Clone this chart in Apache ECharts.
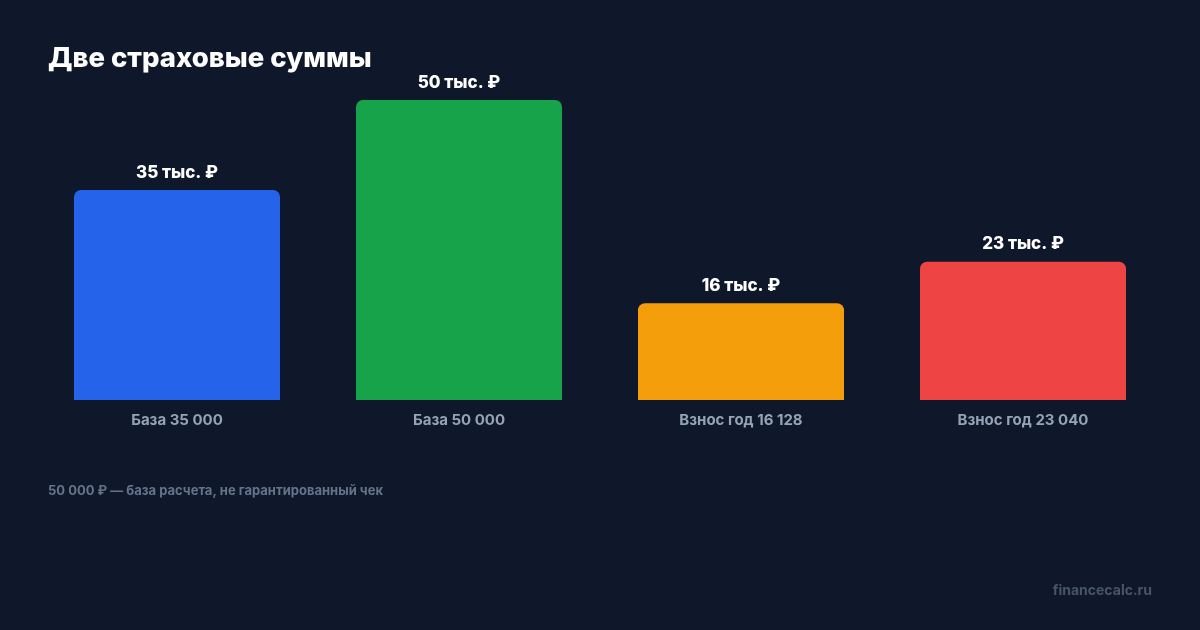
<!DOCTYPE html>
<html><head><meta charset="utf-8">
<script src="https://cdn.jsdelivr.net/npm/echarts@6/dist/echarts.min.js"></script>
<style>html,body{margin:0;padding:0;background:#0f172a;}#c{width:1200px;height:630px;}</style>
</head><body><div id="c"></div>
<script>
const categories = ['База 35 000', 'База 50 000', 'Взнос год 16 128', 'Взнос год 23 040'];
const values = [35000, 50000, 16128, 23040];
const valueLabels = ['35 тыс. ₽', '50 тыс. ₽', '16 тыс. ₽', '23 тыс. ₽'];
const colors = ['#2563eb', '#16a34a', '#f59e0b', '#ef4444'];
const titleText = 'Две страховые суммы';
const footnote = '50 000 ₽ — база расчета, не гарантированный чек';
const watermark = 'financecalc.ru';

const chart = echarts.init(document.getElementById('c'), null, {renderer: 'canvas'});
const F = 'Inter, "Noto Sans", sans-serif';
chart.setOption({
  backgroundColor: '#0f172a',
  animation: false,
  title: {text: titleText, left: 48, top: 45, padding: 0, textStyle: {color: '#ffffff', fontFamily: F, fontSize: 27.5, fontWeight: 800}},
  graphic: [
    {type: 'text', left: 48, top: 485, style: {text: footnote, fill: '#64748b', font: 'bold 13px ' + F}},
    {type: 'text', right: 48, top: 584, style: {text: watermark, fill: '#475569', font: 'bold 14px ' + F}}
  ],
  grid: {left: 36, right: 36, top: 100, bottom: 230},
  xAxis: {type: 'category', data: categories, axisLine: {show: false}, axisTick: {show: false},
    axisLabel: {color: '#94a3b8', fontFamily: F, fontSize: 15, fontWeight: 'bold', margin: 13}},
  yAxis: {type: 'value', min: 0, max: 50000, show: false, splitLine: {show: false}},
  series: [{
    type: 'bar', barWidth: 206,
    data: values.map((v, i) => ({value: v, itemStyle: {color: colors[i]}})),
    itemStyle: {borderRadius: [7, 7, 0, 0]},
    label: {show: true, position: 'top', distance: 9, color: '#ffffff', fontFamily: F, fontSize: 17, fontWeight: 800,
      formatter: p => valueLabels[p.dataIndex]}
  }]
});
</script></body></html>
